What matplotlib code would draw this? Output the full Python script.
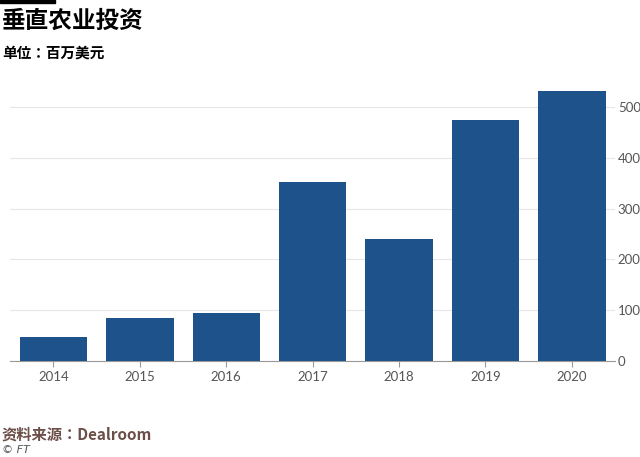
import matplotlib
matplotlib.use("Agg")
import matplotlib.pyplot as plt
from matplotlib import font_manager as fm

years = ["2014", "2015", "2016", "2017", "2018", "2019", "2020"]
values = [48, 84, 94, 352, 240, 474, 532]
yticks = [0, 100, 200, 300, 400, 500]

cjk = [f for f in fm.findSystemFonts() if "CJK" in f and "Serif" not in f]
reg = [f for f in cjk if "Regular" in f] or cjk
bold = [f for f in cjk if "Bold" in f] or reg
fr = fm.FontProperties(fname=reg[0]) if reg else fm.FontProperties(family="Noto Sans CJK SC")
fb = fm.FontProperties(fname=bold[0]) if bold else fm.FontProperties(family="Noto Sans CJK SC", weight="bold")

fig = plt.figure(figsize=(6.4, 4.57), dpi=100, facecolor="white")
ax = fig.add_axes([0.016, 0.21, 0.945, 0.60])
ax.bar(years, values, width=0.78, color="#1e528a", zorder=3)
ax.set_xlim(-0.5, 6.5)
ax.set_ylim(0, 540)
ax.set_yticks(yticks)
ax.yaxis.tick_right()
ax.grid(axis="y", color="#e6e6e6", linewidth=0.8, zorder=0)
for s in ["top", "left", "right"]:
    ax.spines[s].set_visible(False)
ax.spines["bottom"].set_color("#999999")
ax.tick_params(axis="y", length=0, labelsize=9.5, colors="#555555", pad=2)
ax.tick_params(axis="x", length=4, color="#999999", labelsize=9.5, labelcolor="#555555")
for lab in ax.get_xticklabels() + ax.get_yticklabels():
    lab.set_fontfamily("Lato")

fig.add_artist(plt.Rectangle((0, 0.993), 0.086, 0.007, transform=fig.transFigure, color="black"))
t = fig.text(0.003, 0.955, "垂直农业投资", fontproperties=fb, va="center"); t.set_fontsize(17)
t = fig.text(0.003, 0.885, "单位：百万美元", fontproperties=fb, va="center"); t.set_fontsize(10.5)
t = fig.text(0.003, 0.05, "资料来源：Dealroom", fontproperties=fb, color="#6b4f48", va="center"); t.set_fontsize(11)
fig.text(0.003, 0.015, "© FT", fontsize=8, color="#555555", style="italic", va="center")
fig.savefig("out.png", dpi=100, facecolor="white")
